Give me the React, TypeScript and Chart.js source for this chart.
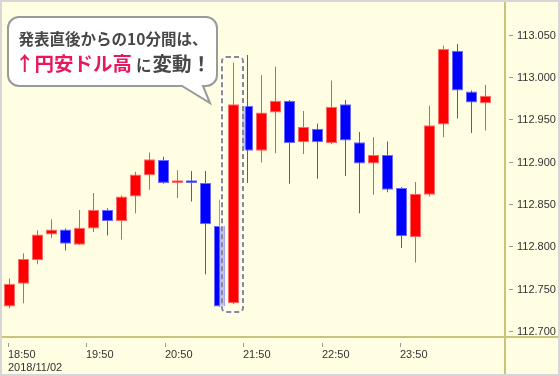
import React, { useEffect, useRef } from "react";
import { Chart, registerables } from "chart.js";

Chart.register(...registerables);

// ---- data (USD/JPY 10-minute candles) ----
const openPrices = [
  112.729, 112.756, 112.784, 112.814, 112.820, 112.802, 112.821, 112.843, 112.830, 112.859,
  112.884, 112.902, 112.875, 112.878, 112.875, 112.824, 112.733, 112.966, 112.913, 112.958,
  112.972, 112.923, 112.939, 112.922, 112.968, 112.923, 112.898, 112.908, 112.869, 112.811,
  112.861, 112.944, 113.031, 112.983, 112.969,
];
const highPrices = [
  112.762, 112.792, 112.819, 112.832, 112.821, 112.843, 112.863, 112.845, 112.860, 112.888,
  112.911, 112.906, 112.890, 112.889, 112.889, 112.855, 113.017, 113.026, 113.002, 113.012,
  112.973, 112.960, 112.945, 112.996, 112.973, 112.935, 112.929, 112.924, 112.870, 112.876,
  112.966, 113.037, 113.039, 112.984, 112.991,
];
const lowPrices = [
  112.727, 112.733, 112.779, 112.810, 112.795, 112.802, 112.817, 112.813, 112.808, 112.839,
  112.867, 112.874, 112.857, 112.853, 112.767, 112.728, 112.732, 112.875, 112.899, 112.910,
  112.874, 112.909, 112.880, 112.921, 112.883, 112.839, 112.861, 112.864, 112.798, 112.781,
  112.859, 112.929, 112.951, 112.934, 112.937,
];
const closePrices = [
  112.756, 112.785, 112.814, 112.820, 112.803, 112.822, 112.843, 112.830, 112.859, 112.885,
  112.903, 112.875, 112.878, 112.875, 112.826, 112.729, 112.968, 112.913, 112.958, 112.972,
  112.922, 112.941, 112.923, 112.965, 112.925, 112.898, 112.908, 112.867, 112.812, 112.862,
  112.943, 113.033, 112.984, 112.970, 112.978,
];

const yTickValues = [112.7, 112.75, 112.8, 112.85, 112.9, 112.95, 113.0, 113.05];
const xTickPositions = [-0.1, 5.5, 11.1, 16.7, 22.3, 27.9];
const xTickLabels = ["18:50", "19:50", "20:50", "21:50", "22:50", "23:50"];
const dateLabel = "2018/11/02";

const calloutLine1 = "発表直後からの10分間は、";
const calloutHighlight = "↑円安ドル高";
const calloutSmall = "に";
const calloutRest = "変動！";
const HIGHLIGHT_INDEX = 16;

// ---- styling ----
const UP_COLOR = "#ff0000";
const DOWN_COLOR = "#0000ff";
const UP_EDGE = "#ff6a6a";
const DOWN_EDGE = "#6a6aff";
const UP_WICK = "#ff4d4d";
const DOWN_WICK = "#4d4dff";
const AXIS_COLOR = "#c8c47c";
const BG_COLOR = "#fffde2";
const FRAME_COLOR = "#d6d6d6";
const LABEL_FONT = "11px 'Liberation Sans', Arial, sans-serif";
const JP_FONT = "'Noto Sans CJK JP', 'Noto Sans', sans-serif";

const isUp = closePrices.map((c, i) => c >= openPrices[i]);

function roundRectPath(ctx: CanvasRenderingContext2D, x: number, y: number, w: number, h: number, r: number) {
  ctx.beginPath();
  ctx.moveTo(x + r, y);
  ctx.lineTo(x + w - r, y);
  ctx.arcTo(x + w, y, x + w, y + r, r);
  ctx.lineTo(x + w, y + h - r);
  ctx.arcTo(x + w, y + h, x + w - r, y + h, r);
  ctx.lineTo(x + r, y + h);
  ctx.arcTo(x, y + h, x, y + h - r, r);
  ctx.lineTo(x, y + r);
  ctx.arcTo(x, y, x + r, y, r);
  ctx.closePath();
}

const decorPlugin = {
  id: "decor",
  beforeDraw(chart: any) {
    const { ctx, width, height } = chart;
    ctx.save();
    ctx.fillStyle = FRAME_COLOR;
    ctx.fillRect(0, 0, width, height);
    ctx.fillStyle = BG_COLOR;
    ctx.fillRect(2, 2, width - 4, height - 4);
    ctx.restore();
  },
  beforeDatasetsDraw(chart: any) {
    const { ctx, width, height, chartArea: ca } = chart;
    const xs = chart.scales.x;
    const ys = chart.scales.y;
    ctx.save();
    // axis lines
    ctx.strokeStyle = AXIS_COLOR;
    ctx.lineWidth = 2;
    ctx.beginPath();
    ctx.moveTo(ca.right, 2);
    ctx.lineTo(ca.right, height - 2);
    ctx.stroke();
    ctx.beginPath();
    ctx.moveTo(2, ca.bottom);
    ctx.lineTo(width - 2, ca.bottom);
    ctx.stroke();

    // y ticks + labels
    ctx.strokeStyle = "#9a9a9a";
    ctx.lineWidth = 1;
    ctx.fillStyle = "#333333";
    ctx.font = LABEL_FONT;
    ctx.textAlign = "left";
    ctx.textBaseline = "middle";
    yTickValues.forEach((v) => {
      const py = Math.round(ys.getPixelForValue(v)) + 0.5;
      ctx.beginPath();
      ctx.moveTo(ca.right + 4, py);
      ctx.lineTo(ca.right + 8, py);
      ctx.stroke();
      ctx.fillText(v.toFixed(3), ca.right + 12, py);
    });

    // x ticks + labels
    xTickPositions.forEach((v, i) => {
      const px = Math.round(xs.getPixelForValue(v)) + 0.5;
      ctx.beginPath();
      ctx.moveTo(px, ca.bottom + 6);
      ctx.lineTo(px, ca.bottom + 10);
      ctx.stroke();
      ctx.fillText(xTickLabels[i], px - 0.5, ca.bottom + 18);
      if (i === 0) ctx.fillText(dateLabel, px - 0.5, ca.bottom + 31);
    });
    ctx.restore();
  },
  afterDatasetsDraw(chart: any) {
    const { ctx } = chart;
    const xs = chart.scales.x;
    const ys = chart.scales.y;
    const cx = xs.getPixelForValue(HIGHLIGHT_INDEX);
    const left = Math.round(cx - 11.5);
    const right = Math.round(cx + 9.5);
    const top = Math.round(ys.getPixelForValue(highPrices[HIGHLIGHT_INDEX]) - 5.5);
    const bottom = Math.round(
      ys.getPixelForValue(Math.min(openPrices[HIGHLIGHT_INDEX], lowPrices[HIGHLIGHT_INDEX])) + 8.5
    );
    ctx.save();
    roundRectPath(ctx, left, top, right - left, bottom - top, 4);
    ctx.strokeStyle = "rgba(255,255,255,0.75)";
    ctx.lineWidth = 5;
    ctx.stroke();
    ctx.setLineDash([5, 3]);
    ctx.strokeStyle = "#8a8a8a";
    ctx.lineWidth = 2;
    ctx.stroke();
    ctx.restore();
  },
  afterDraw(chart: any) {
    const { ctx } = chart;
    ctx.save();
    // speech bubble
    const bx = 8, by = 17, bw = 209, bh = 69, r = 11;
    ctx.beginPath();
    ctx.moveTo(bx + r, by);
    ctx.lineTo(bx + bw - r, by);
    ctx.arcTo(bx + bw, by, bx + bw, by + r, r);
    ctx.lineTo(bx + bw, by + bh - r);
    ctx.arcTo(bx + bw, by + bh, bx + bw - r, by + bh, r);
    ctx.lineTo(203, by + bh);
    ctx.lineTo(210, 103);
    ctx.lineTo(182, by + bh);
    ctx.lineTo(bx + r, by + bh);
    ctx.arcTo(bx, by + bh, bx, by + bh - r, r);
    ctx.lineTo(bx, by + r);
    ctx.arcTo(bx, by, bx + r, by, r);
    ctx.closePath();
    ctx.fillStyle = "#ffffff";
    ctx.fill();
    ctx.strokeStyle = "#9a9a9a";
    ctx.lineWidth = 2;
    ctx.stroke();

    // text
    const centerX = 112.5;
    ctx.textBaseline = "middle";
    ctx.textAlign = "center";
    ctx.fillStyle = "#474747";
    ctx.font = `bold 15.5px ${JP_FONT}`;
    ctx.fillText(calloutLine1, centerX + 0.5, 39);

    ctx.textAlign = "left";
    const bigFont = `bold 19.5px ${JP_FONT}`;
    const smallFont = `bold 15.5px ${JP_FONT}`;
    const gap = 4;
    ctx.font = bigFont;
    const w1 = ctx.measureText(calloutHighlight).width;
    const w3 = ctx.measureText(calloutRest).width;
    ctx.font = smallFont;
    const w2 = ctx.measureText(calloutSmall).width;
    let tx = centerX - (w1 + gap + w2 + w3) / 2;
    const ty = 64;
    ctx.font = bigFont;
    ctx.fillStyle = "#e8185e";
    ctx.fillText(calloutHighlight, tx, ty);
    tx += w1 + gap;
    ctx.font = smallFont;
    ctx.fillStyle = "#474747";
    ctx.fillText(calloutSmall, tx, ty + 1);
    tx += w2 + 1;
    ctx.font = bigFont;
    ctx.fillText(calloutRest, tx, ty);
    ctx.restore();
  },
};

export default function App() {
  const canvasRef = useRef<HTMLCanvasElement | null>(null);

  useEffect(() => {
    const canvas = canvasRef.current;
    if (!canvas) return;

    const wickData = highPrices.map((h, i) => ({ x: i, y: [lowPrices[i], h] }));
    const bodyData = openPrices.map((o, i) => ({
      x: i,
      y: [Math.min(o, closePrices[i]), Math.max(o, closePrices[i])],
    }));

    const xMin = -7.5 / 14;
    const xMax = xMin + 503 / 14;

    const chart = new Chart(canvas, {
      type: "bar",
      data: {
        datasets: [
          {
            label: "body",
            data: bodyData as any,
            backgroundColor: isUp.map((u) => (u ? UP_COLOR : DOWN_COLOR)),
            borderColor: isUp.map((u) => (u ? UP_EDGE : DOWN_EDGE)),
            borderWidth: 1,
            borderSkipped: false,
            barThickness: 11,
            inflateAmount: 0,
            order: 0,
          } as any,
          {
            label: "wick",
            data: wickData as any,
            backgroundColor: isUp.map((u) => (u ? UP_WICK : DOWN_WICK)),
            borderWidth: 0,
            borderSkipped: false,
            barThickness: 1,
            inflateAmount: 0,
            order: 1,
          } as any,
        ],
      },
      options: {
        animation: false,
        responsive: false,
        maintainAspectRatio: false,
        events: [],
        layout: { padding: { left: 2, right: 55, top: 2, bottom: 39 } },
        plugins: {
          legend: { display: false },
          tooltip: { enabled: false },
          title: { display: false },
        },
        scales: {
          x: {
            type: "linear",
            display: false,
            stacked: true,
            offset: false,
            min: xMin,
            max: xMax,
          },
          y: {
            type: "linear",
            display: false,
            stacked: false,
            min: 112.693,
            max: 113.0886,
          },
        },
      } as any,
      plugins: [decorPlugin],
    });

    return () => chart.destroy();
  }, []);

  return (
    <div style={{ position: "fixed", left: 0, top: 0, width: 560, height: 376 }}>
      <canvas ref={canvasRef} width={560} height={376} style={{ display: "block" }} />
    </div>
  );
}
